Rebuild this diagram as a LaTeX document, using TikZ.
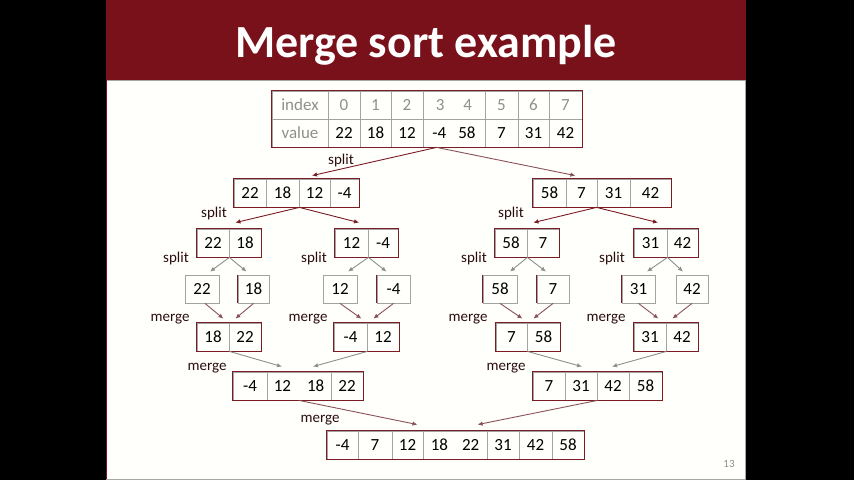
\documentclass[tikz,border=0pt]{standalone}
\usepackage{fontspec}
\setmainfont{Carlito}
\usetikzlibrary{arrows.meta,calc}

\definecolor{titlered}{HTML}{78111A}
\definecolor{framered}{HTML}{7B1C24}
\definecolor{divgray}{HTML}{A3A3A3}
\definecolor{headgray}{HTML}{8F8F8F}
\definecolor{arrgray}{HTML}{8E8E8E}
\definecolor{arrmix}{HTML}{8A5258}
\definecolor{labelcol}{HTML}{2B0D0D}
\definecolor{slidebg}{HTML}{FFFFFB}

\tikzset{
  cell/.style={draw=divgray, line width=0.8pt, inner sep=0pt, minimum height=28pt,
               font=\fontsize{17}{20}\selectfont, text=black},
  hcell/.style={cell, text=headgray},
  frame/.style={draw=framered, line width=1pt},
  lbl/.style={font=\fontsize{15}{18}\selectfont, text=labelcol, inner sep=0pt, anchor=base},
  arr/.style={-{Latex[length=5pt,width=4.5pt]}, line width=0.9pt},
  redarr/.style={arr, draw=framered},
  grayarr/.style={arr, draw=arrgray},
  mixarr/.style={arr, draw=arrmix},
}

% one cell of an array: name, left x, right x, top y, content
\newcommand\mkcell[5]{\node[cell, minimum width={#3-#2}] (#1) at ({(#2+#3)/2},{#4+14}) {#5};}
\newcommand\mkhcell[5]{\node[hcell, minimum width={#3-#2}] (#1) at ({(#2+#3)/2},{#4+14}) {#5};}

\begin{document}
\begin{tikzpicture}[x=1pt,y=-1pt]
  \useasboundingbox (0,0) rectangle (854,480);
  \fill[black] (0,0) rectangle (854,480);

  % slide and title bar
  \fill[slidebg] (106,0) rectangle (746,480);
  \fill[titlered] (106,0) rectangle (746,80);
  \draw[gray!70, line width=1pt] (106,80) -- (746,80);
  \draw[titlered, line width=1pt] (106.5,80) -- (106.5,480);
  \draw[gray!70, line width=1pt] (745.5,80) -- (745.5,480);
  \draw[gray!70, line width=1pt] (106,479.5) -- (746,479.5);
  \node[anchor=base, text=white, inner sep=0pt,
        font=\fontsize{46}{50}\selectfont\bfseries] (title) at (426,57) {Merge sort example};

  % index / value table
  \mkhcell{I0}{272}{328}{91}{index}
  \mkhcell{I1}{328}{360}{91}{0}
  \mkhcell{I2}{360}{391}{91}{1}
  \mkhcell{I3}{391}{423}{91}{2}
  \mkhcell{I4}{423}{485}{91}{3\hskip19pt 4}
  \mkhcell{I5}{485}{518}{91}{5}
  \mkhcell{I6}{518}{549}{91}{6}
  \mkhcell{I7}{549}{582}{91}{7}
  \mkhcell{V0}{272}{328}{119}{value}
  \mkcell{V1}{328}{360}{119}{22}
  \mkcell{V2}{360}{391}{119}{18}
  \mkcell{V3}{391}{423}{119}{12}
  \mkcell{V4}{423}{485}{119}{-4\hskip12pt 58}
  \mkcell{V5}{485}{518}{119}{7}
  \mkcell{V6}{518}{549}{119}{31}
  \mkcell{V7}{549}{582}{119}{42}
  \draw[frame] (I0.north west) rectangle (V7.south east);

  % first split
  \mkcell{L1}{234}{266}{179}{22}
  \mkcell{L2}{266}{299}{179}{18}
  \mkcell{L3}{299}{330}{179}{12}
  \mkcell{L4}{330}{359}{179}{-4}
  \draw[frame] (L1.north west) rectangle (L4.south east);
  \mkcell{R1}{533}{566}{179}{58}
  \mkcell{R2}{566}{597}{179}{7}
  \mkcell{R3}{597}{630}{179}{31}
  \mkcell{R4}{630}{671}{179}{42}
  \draw[frame] (R1.north west) rectangle (R4.south east);

  % second split
  \mkcell{LLa}{197}{229}{229}{22}
  \mkcell{LLb}{229}{261}{229}{18}
  \draw[frame] (LLa.north west) rectangle (LLb.south east);
  \mkcell{LRa}{335}{368}{229}{12}
  \mkcell{LRb}{368}{398}{229}{-4}
  \draw[frame] (LRa.north west) rectangle (LRb.south east);
  \mkcell{RLa}{495}{527}{229}{58}
  \mkcell{RLb}{527}{559}{229}{7}
  \draw[frame] (RLa.north west) rectangle (RLb.south east);
  \mkcell{RRa}{634}{667}{229}{31}
  \mkcell{RRb}{667}{698}{229}{42}
  \draw[frame] (RRa.north west) rectangle (RRb.south east);

  % single elements
  \mkcell{Sa}{185}{219}{275}{22}
  \mkcell{Sb}{238}{269}{275}{18}
  \mkcell{Sc}{323}{357}{275}{12}
  \mkcell{Sd}{377}{410}{275}{-4}
  \mkcell{Se}{483}{517}{275}{58}
  \mkcell{Sf}{537}{569}{275}{7}
  \mkcell{Sg}{622}{655}{275}{31}
  \mkcell{Sh}{676}{708}{275}{42}
  \foreach \s in {Sb,Sd,Se,Sf,Sg}
    \draw[frame] (\s.north west) -- (\s.south west);

  % merged pairs
  \mkcell{Ma}{197}{229}{323}{18}
  \mkcell{Mb}{229}{261}{323}{22}
  \draw[frame] (Ma.north west) rectangle (Mb.south east);
  \mkcell{Mc}{334}{367}{323}{-4}
  \mkcell{Md}{367}{399}{323}{12}
  \draw[frame] (Mc.north west) rectangle (Md.south east);
  \mkcell{Me}{496}{527}{323}{7}
  \mkcell{Mf}{527}{560}{323}{58}
  \draw[frame] (Me.north west) rectangle (Mf.south east);
  \mkcell{Mg}{634}{666}{323}{31}
  \mkcell{Mh}{666}{698}{323}{42}
  \draw[frame] (Mg.north west) rectangle (Mh.south east);

  % merged halves
  \mkcell{Na}{233}{267}{372}{-4}
  \mkcell{Nb}{267}{331}{372}{12\hskip16pt 18}
  \mkcell{Nc}{331}{363}{372}{22}
  \draw[frame] (Na.north west) rectangle (Nc.south east);
  \mkcell{Pa}{533}{565}{372}{7}
  \mkcell{Pb}{565}{597}{372}{31}
  \mkcell{Pc}{597}{629}{372}{42}
  \mkcell{Pd}{629}{662}{372}{58}
  \draw[frame] (Pa.north west) rectangle (Pd.south east);

  % sorted result
  \mkcell{F1}{327}{358}{431}{-4}
  \mkcell{F2}{358}{392}{431}{7}
  \mkcell{F3}{392}{423}{431}{12}
  \mkcell{F4}{423}{487}{431}{18\hskip14pt 22}
  \mkcell{F5}{487}{519}{431}{31}
  \mkcell{F6}{519}{552}{431}{42}
  \mkcell{F7}{552}{584}{431}{58}
  \draw[frame] (F1.north west) rectangle (F7.south east);

  % split arrows
  \draw[redarr] ($(V4.south west)+(14,0)$) -- ($(L3.north)+(-2.5,-3)$);
  \draw[mixarr] ($(V4.south west)+(14,0)$) -- ($(R1.north east)+(9,-3)$);
  \draw[redarr] (L2.south east) -- ($(LLa.north east)+(6,-6)$);
  \draw[redarr] (L2.south east) -- ($(LRa.north)+(7.5,-6)$);
  \draw[redarr] (R3.south west) -- ($(RLa.north east)+(6,-6)$);
  \draw[redarr] (R3.south west) -- ($(RRa.north)+(7.5,-6)$);
  \draw[grayarr] (LLa.south east) -- ($(Sa.north)+(8,-3)$);
  \draw[grayarr] (LLa.south east) -- ($(Sb.north)+(-7,-3)$);
  \draw[grayarr] (LRa.south east) -- ($(Sc.north)+(8,-3)$);
  \draw[grayarr] (LRa.south east) -- ($(Sd.north)+(-7,-3)$);
  \draw[grayarr] (RLa.south east) -- ($(Se.north)+(10,-3)$);
  \draw[grayarr] (RLa.south east) -- ($(Sf.north)+(-7,-3)$);
  \draw[grayarr] (RRa.south east) -- ($(Sg.north)+(8.5,-3)$);
  \draw[grayarr] (RRa.south east) -- ($(Sh.north)+(-9,-3)$);

  % merge arrows
  \draw[mixarr] ($(Sa.south)+(3,0)$) -- ($(Ma.north east)+(-6,-4)$);
  \draw[mixarr] (Sb.south) -- ($(Ma.north east)+(6,-4)$);
  \draw[mixarr] (Sc.south) -- ($(Mc.north east)+(-6,-4)$);
  \draw[mixarr] (Sd.south) -- ($(Mc.north east)+(6,-4)$);
  \draw[mixarr] (Se.south) -- ($(Me.north east)+(-5,-4)$);
  \draw[mixarr] (Sf.south) -- ($(Me.north east)+(6,-4)$);
  \draw[mixarr] (Sg.south) -- ($(Mg.north east)+(-8,-4)$);
  \draw[mixarr] (Sh.south) -- ($(Mg.north east)+(6,-4)$);
  \draw[grayarr] (Ma.south east) -- ($(Nb.north)+(-17,-5)$);
  \draw[grayarr] (Mc.south east) -- ($(Nb.north)+(14,-5)$);
  \draw[grayarr] (Me.south east) -- ($(Pb.north)+(1,-5)$);
  \draw[grayarr] (Mg.south east) -- ($(Pc.north)+(-1,-5)$);
  \draw[mixarr] (Nb.south) -- ($(F3.north)+(10,-6)$);
  \draw[mixarr] (Pb.south east) -- ($(F5.north west)+(-9,-6)$);

  % step labels
  \node[lbl] (s0) at (341,164) {split};
  \node[lbl] (s1) at (214,217) {split};
  \node[lbl] (s2) at (511,217) {split};
  \node[lbl] (s3) at (176,262) {split};
  \node[lbl] (s4) at (314,262) {split};
  \node[lbl] (s5) at (474,262) {split};
  \node[lbl] (s6) at (612,262) {split};
  \node[lbl] (m1) at (170,321) {merge};
  \node[lbl] (m2) at (308,321) {merge};
  \node[lbl] (m3) at (468,321) {merge};
  \node[lbl] (m4) at (606,321) {merge};
  \node[lbl] (m5) at (207,370) {merge};
  \node[lbl] (m6) at (506,370) {merge};
  \node[lbl] (m7) at (320,422) {merge};

  % slide number
  \node[font=\fontsize{11}{13}\selectfont, text=headgray, inner sep=0pt] (pg) at (729,464) {13};
\end{tikzpicture}
\end{document}
